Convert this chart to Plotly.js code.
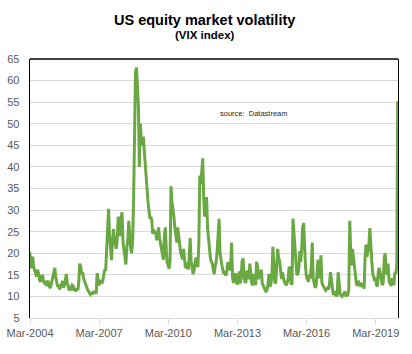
<!DOCTYPE html>
<html>
<head>
<meta charset="utf-8">
<script src="https://cdn.plot.ly/plotly-3.0.1.min.js"></script>
<style>
html,body{margin:0;padding:0;background:#fff;}
#chart{width:412px;height:354px;}
</style>
</head>
<body>
<div id="chart"></div>
<script>
// VIX index: two readings per month (8th and 23rd)
const vix2004 = [19.0, 20.2, 16.5, 18.4, 19.2, 16.8, 15.8, 14.8, 14.6, 16.2, 15.4, 13.8, 13.4, 14.2, 15.0, 13.9, 12.9, 13.6, 12.4, 13.2]; // from Mar
const vix2005 = [13.6, 12.4, 11.9, 12.6, 13.5, 14.2, 15.3, 16.6, 14.5, 13.0, 12.2, 12.8, 11.6, 12.4, 12.6, 13.6, 12.0, 12.6, 14.4, 15.2, 13.0, 12.2, 11.4, 12.0];
const vix2006 = [11.8, 12.6, 12.4, 11.4, 11.6, 11.2, 11.8, 11.4, 13.2, 17.6, 16.8, 15.2, 15.6, 14.2, 13.4, 12.6, 12.2, 11.6, 11.2, 10.8, 10.5, 10.9, 10.4, 11.2];
const vix2007 = [10.8, 11.2, 10.6, 15.4, 14.2, 12.6, 13.2, 13.8, 13.0, 13.6, 15.0, 16.2, 16.0, 21.0, 26.0, 30.3, 24.0, 20.0, 18.4, 22.2, 25.6, 23.6, 21.8, 21.0];
const vix2008 = [23.5, 28.5, 26.0, 24.0, 28.0, 29.5, 22.5, 20.5, 18.0, 17.4, 21.5, 23.0, 27.5, 23.0, 21.0, 20.0, 23.0, 33.0, 52.0, 62.0, 63.0, 58.0, 54.0, 40.0];
const vix2009 = [50.0, 46.0, 45.0, 47.0, 44.0, 40.0, 37.0, 34.0, 32.0, 30.0, 28.0, 28.5, 27.5, 24.5, 25.5, 24.5, 25.0, 23.0, 24.5, 26.0, 23.5, 22.0, 21.5, 20.0];
const vix2010 = [18.5, 24.0, 26.0, 20.5, 17.8, 17.2, 16.4, 18.2, 35.5, 32.0, 30.5, 28.5, 26.0, 24.0, 22.5, 26.0, 23.0, 22.0, 20.2, 19.0, 18.6, 21.0, 17.6, 16.6];
const vix2011 = [16.8, 17.8, 16.2, 19.5, 23.5, 18.2, 16.0, 15.2, 16.0, 17.6, 19.0, 17.6, 16.8, 22.0, 38.0, 36.0, 39.0, 42.0, 33.0, 28.5, 31.0, 33.0, 26.0, 23.5];
const vix2012 = [21.0, 18.8, 18.0, 17.6, 16.2, 15.2, 17.0, 18.0, 20.5, 25.0, 28.0, 20.0, 18.0, 17.2, 16.0, 15.2, 15.8, 14.8, 16.0, 17.8, 17.6, 16.0, 17.0, 22.5];
const vix2013 = [14.2, 13.2, 13.6, 15.4, 13.6, 12.8, 13.2, 15.8, 13.0, 14.2, 18.2, 18.8, 14.8, 13.2, 13.4, 16.0, 15.2, 14.0, 17.6, 14.8, 13.0, 12.6, 15.2, 13.4];
const vix2014 = [12.6, 18.0, 17.0, 14.0, 15.0, 14.4, 16.2, 13.0, 12.4, 12.0, 11.4, 11.0, 11.6, 12.8, 15.2, 12.2, 13.0, 14.6, 21.5, 16.6, 13.4, 13.0, 19.5, 21.0];
const vix2015 = [19.0, 18.2, 16.0, 14.0, 15.6, 14.0, 13.4, 13.0, 12.6, 13.2, 14.2, 16.8, 16.6, 12.8, 13.0, 28.0, 24.5, 23.0, 18.0, 15.0, 15.2, 16.4, 20.5, 18.0];
const vix2016 = [21.0, 26.0, 27.0, 21.0, 17.0, 14.6, 14.0, 13.4, 15.0, 14.2, 17.0, 22.5, 14.2, 12.6, 12.0, 12.4, 14.8, 18.5, 14.2, 15.4, 19.5, 13.2, 12.6, 12.0];
const vix2017 = [11.8, 11.4, 11.6, 12.0, 11.6, 12.8, 15.6, 13.6, 11.0, 10.4, 10.6, 11.2, 10.0, 10.4, 15.6, 12.2, 10.6, 10.2, 10.0, 10.4, 10.6, 11.2, 10.0, 10.4];
const vix2018 = [10.4, 11.6, 27.5, 20.0, 17.2, 21.0, 18.6, 16.0, 14.0, 13.0, 12.4, 13.6, 13.0, 12.6, 12.8, 12.2, 13.0, 11.8, 19.0, 22.0, 19.2, 20.4, 22.0, 25.8];
const vix2019 = [20.0, 18.0, 15.2, 14.4, 13.6, 14.4, 12.6, 12.4, 16.0, 16.6, 15.4, 13.8, 12.6, 13.2, 19.0, 20.0, 15.6, 15.0, 17.6, 13.6, 12.6, 12.4, 14.2, 13.0];
const vix2020 = [12.6, 15.5, 15.2, 17.5, 55.2];

const yearBlocks = [
  [2004, 3, vix2004], [2005, 1, vix2005], [2006, 1, vix2006], [2007, 1, vix2007],
  [2008, 1, vix2008], [2009, 1, vix2009], [2010, 1, vix2010], [2011, 1, vix2011],
  [2012, 1, vix2012], [2013, 1, vix2013], [2014, 1, vix2014], [2015, 1, vix2015],
  [2016, 1, vix2016], [2017, 1, vix2017], [2018, 1, vix2018], [2019, 1, vix2019],
  [2020, 1, vix2020]
];

const tickDates = ['2004-03-26', '2007-03-26', '2010-03-26', '2013-03-26', '2016-03-26', '2019-03-26'];
const tickLabels = ['Mar-2004', 'Mar-2007', 'Mar-2010', 'Mar-2013', 'Mar-2016', 'Mar-2019'];

const dates = [], values = [];
yearBlocks.forEach(([yr, startMonth, arr]) => {
  arr.forEach((v, i) => {
    const m = startMonth + Math.floor(i / 2);
    const d = (i % 2 === 0) ? '08' : '23';
    dates.push(yr + '-' + String(m).padStart(2, '0') + '-' + d);
    values.push(v);
  });
});

const FONT = 'Liberation Sans, Arial, sans-serif';

const trace = {
  type: 'scatter', mode: 'lines',
  x: dates, y: values,
  line: {color: '#6aa843', width: 3},
  hoverinfo: 'skip'
};

const layout = {
  width: 412, height: 354,
  margin: {l: 30, r: 14, t: 59, b: 36, pad: 0},
  paper_bgcolor: '#ffffff', plot_bgcolor: '#ffffff',
  font: {family: FONT, size: 11, color: '#595959'},
  showlegend: false,
  xaxis: {
    type: 'date',
    range: ['2004-03-26', '2020-03-13'],
    tickmode: 'array', tickvals: tickDates, ticktext: tickLabels,
    showgrid: false, zeroline: false,
    showline: true, linecolor: '#d9d9d9', linewidth: 1,
    ticks: 'outside', ticklen: 5, tickcolor: '#d9d9d9', tickwidth: 1,
    tickfont: {family: FONT, size: 11, color: '#595959'}
  },
  yaxis: {
    range: [5, 65], tick0: 5, dtick: 5,
    showgrid: true, gridcolor: '#d9d9d9', gridwidth: 1,
    zeroline: false,
    showline: true, linecolor: '#000000', linewidth: 1.3, mirror: true,
    ticks: 'outside', ticklen: 7, tickcolor: 'rgba(0,0,0,0)',
    tickfont: {family: FONT, size: 11, color: '#595959'}
  },
  shapes: [
    {type: 'line', xref: 'paper', yref: 'paper', x0: 0, x1: 1, y0: 1, y1: 1,
     line: {color: '#000000', width: 1.3}}
  ],
  annotations: [
    {text: '<b>US equity market volatility</b>', xref: 'paper', yref: 'paper',
     x: 0.4755, y: (318 - 20.5) / 259, xanchor: 'center', yanchor: 'middle', showarrow: false,
     font: {family: FONT, size: 14.5, color: '#000000'}},
    {text: '<b>(VIX index)</b>', xref: 'paper', yref: 'paper',
     x: 0.4755, y: (318 - 35) / 259, xanchor: 'center', yanchor: 'middle', showarrow: false,
     font: {family: FONT, size: 11.5, color: '#000000'}},
    {text: 'source:\u00A0\u00A0Datastream', xref: 'paper', yref: 'paper',
     x: 0.609, y: 0.788, xanchor: 'center', yanchor: 'middle', showarrow: false,
     font: {family: FONT, size: 7.5, color: '#262626'}}
  ]
};

Plotly.newPlot('chart', [trace], layout, {staticPlot: true, displayModeBar: false});
</script>
</body>
</html>
